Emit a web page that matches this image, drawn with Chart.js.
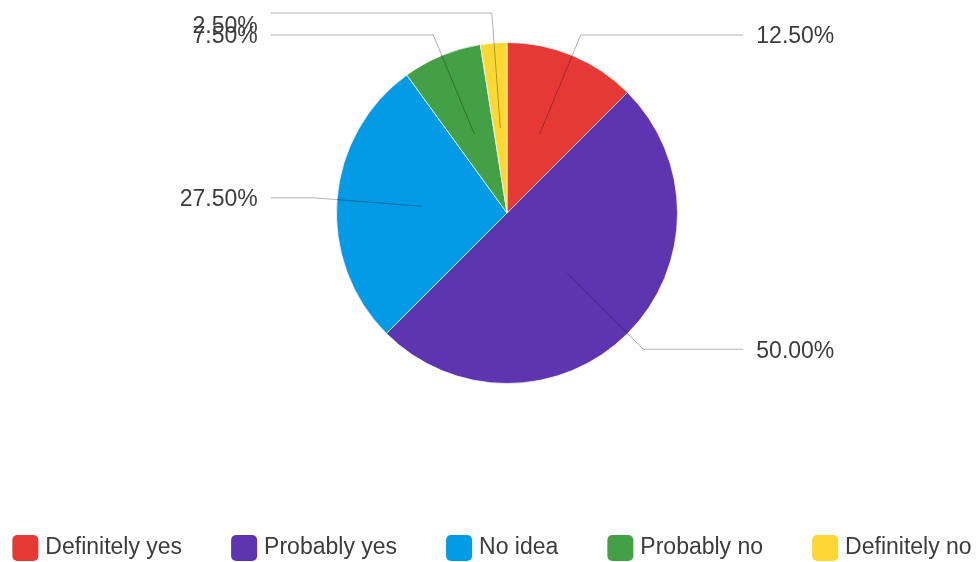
<!DOCTYPE html>
<html>
<head>
<meta charset="utf-8">
<script src="https://cdn.jsdelivr.net/npm/chart.js@4"></script>
<style>
    html, body { margin: 0; padding: 0; background: #fff; }
    #wrap { width: 979px; height: 562px; }
</style>
</head>
<body>
<div id="wrap"><canvas id="pieChart" width="979" height="562"></canvas></div>
<script>
const labels = ['Definitely yes', 'Probably yes', 'No idea', 'Probably no', 'Definitely no'];
const shares = [12.5, 50, 27.5, 7.5, 2.5];
const colors = ['#e53935', '#5e35b1', '#039be5', '#43a047', '#fdd835'];

const FONT = '"Liberation Sans", Arial, sans-serif';
const TEXT = '#3c3c3c';

// The pie sits up top and a little right of centre, not where the layout would put it
const pieArea = {
    id: 'pieArea',
    afterLayout(chart) {
        const a = chart.chartArea;
        a.left = 336; a.right = 678;
        a.top = 42; a.bottom = 384;
        a.width = a.right - a.left;
        a.height = a.bottom - a.top;
    }
};

// Percentage labels with elbow leader lines
const leaderLabels = {
    id: 'leaderLabels',
    afterDatasetsDraw(chart) {
        const ctx = chart.ctx;
        const values = chart.data.datasets[0].data;
        const total = values.reduce((s, v) => s + v, 0);
        const items = chart.getDatasetMeta(0).data.map((arc, i) => {
            const mid = (arc.startAngle + arc.endAngle) / 2;
            const r = arc.outerRadius;
            const cos = Math.cos(mid), sin = Math.sin(mid);
            return {
                i: i,
                left: cos < 0,
                cx: arc.x, r: r,
                ax: arc.x + cos * r * 0.5, ay: arc.y + sin * r * 0.5,
                ex: arc.x + cos * r * 1.13, ey: arc.y + sin * r * 1.13
            };
        });

        // small slices on the left crowd each other, push them up
        const leftSide = items.filter(d => d.left).sort((a, b) => b.ey - a.ey);
        for (let k = 1; k < leftSide.length; k++) {
            if (leftSide[k - 1].ey - leftSide[k].ey < 22) {
                leftSide[k].ey = leftSide[k - 1].ey - 22;
            }
        }

        ctx.save();
        ctx.font = '23px ' + FONT;
        ctx.textBaseline = 'middle';
        items.forEach(d => {
            const endX = d.left ? d.cx - d.r * 1.386 : d.cx + d.r * 1.386;
            ctx.strokeStyle = 'rgba(0, 0, 0, 0.3)';
            ctx.lineWidth = 1;
            ctx.beginPath();
            ctx.moveTo(d.ax, d.ay);
            ctx.lineTo(d.ex, d.ey);
            ctx.lineTo(endX, d.ey);
            ctx.stroke();

            const txt = (values[d.i] / total * 100).toFixed(2) + '%';
            ctx.fillStyle = TEXT;
            ctx.textAlign = d.left ? 'right' : 'left';
            ctx.fillText(txt, d.left ? endX - 13 : endX + 13, Math.max(d.ey, 25) + 2);
        });
        ctx.restore();
    }
};

// One-row legend along the bottom edge with wide gaps between entries
const bottomLegend = {
    id: 'bottomLegend',
    afterDraw(chart) {
        const ctx = chart.ctx;
        const fills = chart.data.datasets[0].backgroundColor;
        const box = 26, gap = 7, spacing = 49, top = 535;
        ctx.save();
        ctx.font = '23px ' + FONT;
        ctx.textBaseline = 'middle';
        ctx.textAlign = 'left';
        const widths = chart.data.labels.map(t => box + gap + ctx.measureText(t).width);
        const total = widths.reduce((s, w) => s + w, 0) + spacing * (widths.length - 1);
        let x = 492 - total / 2;
        chart.data.labels.forEach((t, i) => {
            ctx.fillStyle = fills[i];
            ctx.beginPath();
            ctx.roundRect(x, top, box, box, 5);
            ctx.fill();
            ctx.fillStyle = TEXT;
            ctx.fillText(t, x + box + gap, top + box / 2);
            x += widths[i] + spacing;
        });
        ctx.restore();
    }
};

new Chart(document.getElementById('pieChart'), {
    type: 'pie',
    data: {
        labels: labels,
        datasets: [{
            data: shares,
            backgroundColor: colors,
            borderColor: 'rgba(255, 255, 255, 0.7)',
            borderWidth: 1,
            clip: false
        }]
    },
    options: {
        responsive: false,
        animation: false,
        plugins: {
            legend: { display: false },
            tooltip: { enabled: false }
        }
    },
    plugins: [pieArea, leaderLabels, bottomLegend]
});
</script>
</body>
</html>
